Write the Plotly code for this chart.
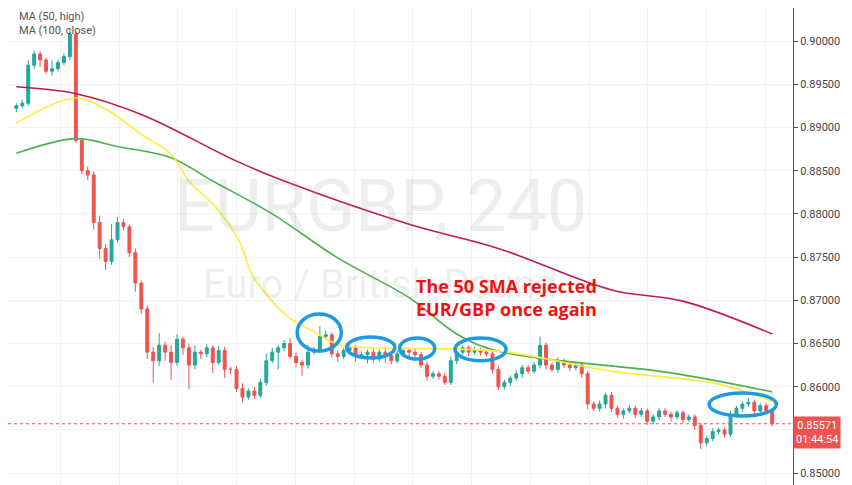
import plotly.graph_objects as go

# EURGBP 240 candles (index = bar number), closes
closes = [0.8925, 0.8928, 0.8972, 0.8985, 0.8978, 0.8965, 0.8968, 0.8975, 0.8982, 0.9008,
          0.8885, 0.8850, 0.8845, 0.8790, 0.8760, 0.8745, 0.8770, 0.8790, 0.8785, 0.8755,
          0.8720, 0.8690, 0.8640, 0.8630, 0.8648, 0.8640, 0.8628, 0.8655, 0.8645, 0.8625,
          0.8640, 0.8638, 0.8645, 0.8628, 0.8642, 0.8620, 0.8620, 0.8598, 0.8588, 0.8595,
          0.8590, 0.8605, 0.8630, 0.8640, 0.8645, 0.8650, 0.8635, 0.8628, 0.8625, 0.8640,
          0.8643, 0.8658, 0.8660, 0.8638, 0.8635, 0.8642, 0.8645, 0.8635, 0.8637, 0.8640,
          0.8632, 0.8640, 0.8636, 0.8630, 0.8638, 0.8642, 0.8640, 0.8637, 0.8625, 0.8612,
          0.8615, 0.8612, 0.8605, 0.8630, 0.8640, 0.8645, 0.8640, 0.8642, 0.8640, 0.8638,
          0.8620, 0.8600, 0.8605, 0.8610, 0.8615, 0.8622, 0.8618, 0.8625, 0.8648, 0.8625,
          0.8620, 0.8630, 0.8625, 0.8622, 0.8625, 0.8615, 0.8580, 0.8575, 0.8580, 0.8590,
          0.8575, 0.8568, 0.8572, 0.8575, 0.8568, 0.8572, 0.8560, 0.8565, 0.8572, 0.8568,
          0.8565, 0.8570, 0.8562, 0.8565, 0.8555, 0.8535, 0.8540, 0.8548, 0.8550, 0.8545,
          0.8568, 0.8575, 0.8580, 0.8582, 0.8572, 0.8578, 0.8572, 0.8557]
first_open = 0.8922
# wick lengths in pips above / below the candle body
wick_up = [3, 4, 6, 4, 3, 3, 10, 3, 4, 6, 4, 3, 5, 4, 8, 5, 18, 6, 4, 3,
           5, 3, 4, 6, 14, 4, 8, 6, 3, 5, 8, 3, 4, 3, 5, 4, 3, 4, 6, 3,
           5, 4, 8, 5, 3, 4, 6, 4, 3, 8, 3, 12, 5, 3, 4, 3, 5, 3, 4, 3,
           4, 3, 4, 3, 4, 3, 3, 4, 3, 4, 3, 3, 4, 5, 4, 3, 3, 4, 3, 3,
           3, 4, 3, 3, 4, 3, 3, 4, 10, 3, 3, 4, 3, 3, 3, 3, 3, 3, 4, 3,
           4, 3, 3, 4, 3, 3, 3, 3, 3, 3, 3, 3, 3, 3, 3, 3, 3, 4, 3, 3,
           4, 3, 3, 5, 3, 3, 3, 3]
wick_dn = [4, 3, 3, 4, 8, 3, 5, 3, 3, 4, 3, 4, 6, 8, 12, 10, 4, 3, 4, 5,
           10, 6, 8, 25, 6, 10, 20, 4, 8, 28, 5, 6, 4, 12, 3, 10, 6, 4, 6, 3,
           4, 3, 4, 3, 20, 4, 3, 5, 12, 4, 3, 4, 3, 4, 6, 3, 4, 6, 3, 10,
           4, 3, 8, 4, 3, 3, 6, 4, 3, 5, 3, 4, 3, 3, 4, 3, 5, 3, 4, 3,
           5, 4, 3, 4, 3, 5, 3, 3, 4, 5, 3, 4, 3, 4, 3, 5, 6, 3, 4, 5,
           4, 4, 5, 3, 4, 3, 4, 3, 4, 3, 5, 3, 4, 3, 5, 7, 4, 3, 3, 4,
           3, 4, 4, 3, 4, 4, 3, 3]

# moving averages, read at points along each line
ma50_x = [0, 10, 15.5, 21, 26, 29, 33.6, 37.4, 39.6, 42.5, 46, 50, 54, 60, 81, 100, 118, 127]
ma50_y = [0.8905, 0.8934, 0.8919, 0.8892, 0.8869, 0.8838, 0.8807, 0.8769, 0.8730, 0.8703,
          0.8679, 0.8664, 0.8649, 0.8645, 0.8641, 0.8618, 0.8603, 0.8583]
ma100_x = [0, 10, 17, 26, 33, 43, 54, 66, 74, 81, 110, 127]
ma100_y = [0.8870, 0.8887, 0.8878, 0.8865, 0.8838, 0.8800, 0.8749, 0.8703, 0.8661, 0.8641, 0.8616, 0.8594]
ma200_x = [0, 10, 21, 37, 45, 66, 81, 100, 112, 127]
ma200_y = [0.8947, 0.8939, 0.8915, 0.8861, 0.8838, 0.8788, 0.8760, 0.8712, 0.8699, 0.8661]

last_price = 0.85571

opens = [first_open] + closes[:-1]
idx = list(range(len(closes)))
highs = [max(o, c) + w / 10000 for o, c, w in zip(opens, closes, wick_up)]
lows = [min(o, c) - w / 10000 for o, c, w in zip(opens, closes, wick_dn)]

fig = go.Figure()
fig.add_trace(go.Candlestick(
    x=idx, open=opens, high=highs, low=lows, close=closes,
    increasing=dict(line=dict(color="#26a69a", width=1), fillcolor="#26a69a"),
    decreasing=dict(line=dict(color="#ef5350", width=1), fillcolor="#ef5350"),
    whiskerwidth=0, showlegend=False, hoverinfo="skip"))
for xs, ys, col in [(ma200_x, ma200_y, "#c2185b"), (ma100_x, ma100_y, "#4caf50"), (ma50_x, ma50_y, "#ffeb3b")]:
    fig.add_trace(go.Scatter(x=xs, y=ys, mode="lines", line=dict(color=col, width=1.6, shape="spline"),
                             showlegend=False, hoverinfo="skip"))

fig.add_hline(y=last_price, line=dict(color="#ef5350", width=1, dash="dot"))

# blue circles around the rejections
circles = [(47.2, 54.6, 0.86841, 0.86413), (55.5, 63.6, 0.86575, 0.86332), (64.4, 70.3, 0.86564, 0.86320),
           (73.7, 82.3, 0.86564, 0.86300), (116.4, 127.7, 0.85927, 0.85661)]
for x0, x1, y0, y1 in circles:
    fig.add_shape(type="circle", x0=x0, x1=x1, y0=y0, y1=y1, line=dict(color="#1e9be0", width=3.5))

fig.add_annotation(x=0.475, y=0.59, xref="paper", yref="paper", text="EURGBP, 240", showarrow=False,
                   font=dict(size=72, color="rgba(150,150,150,0.16)", family="Roboto"))
fig.add_annotation(x=0.475, y=0.43, xref="paper", yref="paper", text="Euro / British Pound", showarrow=False,
                   font=dict(size=40, color="rgba(150,150,150,0.16)", family="Roboto"))
fig.add_annotation(x=0.517, y=0.455, xref="paper", yref="paper", xanchor="left", yanchor="top", align="left",
                   text="<b>The 50 SMA rejected<br>EUR/GBP once again</b>", showarrow=False,
                   font=dict(size=18, color="#ee1111", family="Open Sans"))
fig.add_annotation(x=0.012, y=1.0, xref="paper", yref="paper", xanchor="left", yanchor="top", align="left",
                   text="MA (50, high)<br>MA (100, close)", showarrow=False,
                   font=dict(size=11, color="#555555", family="Roboto"))
fig.add_annotation(x=1.0, y=last_price, xref="paper", yref="y", xanchor="left", yanchor="top",
                   yshift=8, text="0.85571<br>01:44:54",
                   showarrow=False, bgcolor="#ef5350", font=dict(size=11, color="white", family="Roboto"),
                   borderpad=2)

fig.update_layout(
    width=852, height=485, margin=dict(l=0, r=67, t=0, b=0),
    plot_bgcolor="white", paper_bgcolor="white",
    xaxis=dict(range=[-1.4, 130.5], rangeslider=dict(visible=False), showticklabels=False,
               tick0=7.4, dtick=9.87, gridcolor="#eef2f5", zeroline=False),
    yaxis=dict(range=[0.84770, 0.90382], side="right", tickformat=".5f", dtick=0.005,
               gridcolor="#eef2f5", showline=True, linecolor="#555555", ticks="outside",
               ticklen=4, tickcolor="#555555", zeroline=False,
               tickfont=dict(size=11, color="#444444", family="Roboto")),
)

fig.write_html("out.html")
